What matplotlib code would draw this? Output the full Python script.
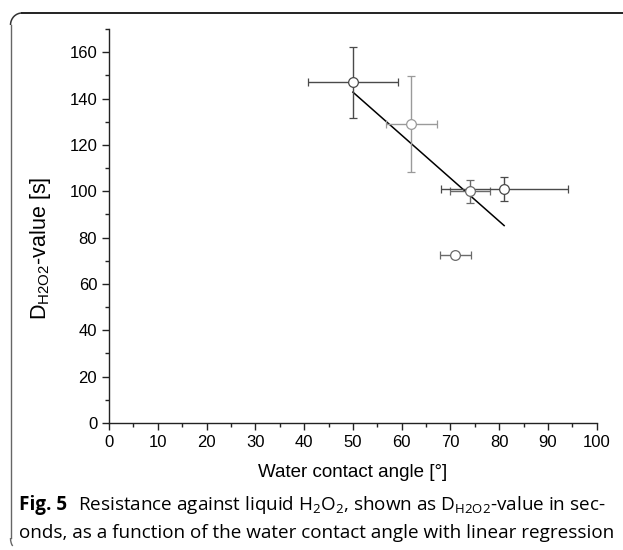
import matplotlib.pyplot as plt
from matplotlib.ticker import MultipleLocator
from matplotlib.lines import Line2D
from matplotlib.patches import Arc

plt.rcParams['font.family'] = ['Liberation Sans', 'DejaVu Sans']
plt.rcParams['mathtext.fontset'] = 'custom'
plt.rcParams['mathtext.rm'] = 'Liberation Sans'

# data
angle = [50, 62, 74, 81, 71]
angle_err = [9.2, 5.2, 4.0, 13.0, 3.2]
d_value = [147, 129, 100, 101, 72.5]
d_err = [15.5, 20.7, 5.0, 5.2, 1.5]
bar_colors = ['#4a4a4a', '#9a9a9a', '#6a6a6a', '#4a4a4a', '#6a6a6a']

fit_x = [50, 81]
fit_y = [142.8, 85.2]

fig = plt.figure(figsize=(6.23, 5.5), dpi=100)
ax = fig.add_axes([0.175, 0.231, 0.783, 0.716])

for x, xe, y, ye, c in zip(angle, angle_err, d_value, d_err, bar_colors):
    ax.errorbar(x, y, xerr=xe, yerr=ye, fmt='o', ms=7, mfc='white', mec=c,
                mew=0.9, ecolor=c, elinewidth=1.0, capsize=3, capthick=1.0, zorder=3)

ax.plot(fit_x, fit_y, color='black', lw=1.1, zorder=2)

ax.set_xlim(0, 100)
ax.set_ylim(0, 170)
ax.xaxis.set_major_locator(MultipleLocator(10))
ax.xaxis.set_minor_locator(MultipleLocator(5))
ax.yaxis.set_minor_locator(MultipleLocator(10))
ax.set_yticks(range(0, 161, 20))
ax.spines['top'].set_visible(False)
ax.spines['right'].set_visible(False)
for s in ['left', 'bottom']:
    ax.spines[s].set_linewidth(1.0)
    ax.spines[s].set_color('#222222')
ax.tick_params(which='major', direction='out', length=5, width=1.0, labelsize=12, color='#222222')
ax.tick_params(which='minor', direction='out', length=3, width=1.0, color='#222222')

ax.set_xlabel('Water contact angle [°]', fontsize=13.5)
ax.xaxis.set_label_coords(0.5, -0.105)
ax.set_ylabel(r'D$_{\mathregular{H2O2}}$-value [s]', fontsize=15.5)
ax.yaxis.set_label_coords(-0.115, 0.444)

# rounded panel frame
fig.add_artist(Line2D([22 / 623, 1.0], [1 - 13 / 550] * 2, color='#222222', lw=1.4))
fig.add_artist(Line2D([10.5 / 623] * 2, [1 - 25 / 550, 1 - 538 / 550], color='#666666', lw=1.0))
fig.add_artist(Arc((22 / 623, 1 - 25 / 550), 23 / 623, 24 / 550, theta1=90, theta2=180,
                   transform=fig.transFigure, color='#333333', lw=1.1))
fig.add_artist(Arc((16 / 623, 1 - 538 / 550), 11 / 623, 20 / 550, theta1=180, theta2=250,
                   transform=fig.transFigure, color='#666666', lw=1.0))

cap_font = ['Open Sans', 'DejaVu Sans']
plt.rcParams['mathtext.rm'] = 'Open Sans'
fig.text(19 / 623, 1 - 510 / 550, 'Fig. 5', fontsize=13.6, fontweight='bold', family=cap_font, va='baseline')
fig.text(78 / 623, 1 - 510 / 550,
         r'Resistance against liquid H$_2$O$_2$, shown as D$_{\mathregular{H2O2}}$-value in sec-',
         fontsize=13.6, family=cap_font, va='baseline')
fig.text(19 / 623, 1 - 538 / 550,
         'onds, as a function of the water contact angle with linear regression',
         fontsize=13.6, family=cap_font, va='baseline')

fig.savefig('out.png', dpi=100)
